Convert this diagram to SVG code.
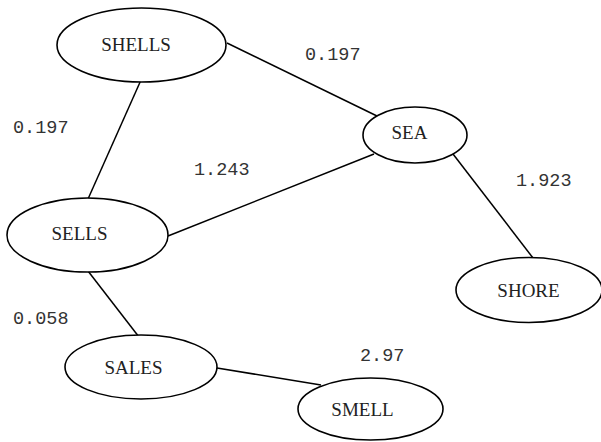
<svg xmlns="http://www.w3.org/2000/svg" width="601" height="442" viewBox="0 0 601 442">
  <style>
    .node ellipse { fill: #ffffff; stroke: #000000; stroke-width: 1.6; }
    .node text { font-family: "Liberation Serif", "Times New Roman", serif; font-size: 19px; fill: #222222; text-anchor: middle; }
    .edge { stroke: #000000; stroke-width: 1.5; fill: none; }
    .weight { font-family: "Liberation Mono", "Courier New", monospace; font-size: 18.5px; fill: #333333; }
  </style>
  <rect width="601" height="442" fill="#ffffff"/>

  <!-- weighted edges -->
  <g id="edges">
    <line class="edge" x1="227" y1="43" x2="377" y2="116"/>
    <line class="edge" x1="141" y1="80" x2="88" y2="199"/>
    <line class="edge" x1="168" y1="236" x2="374" y2="154"/>
    <line class="edge" x1="453" y1="154" x2="533" y2="258"/>
    <line class="edge" x1="88" y1="271" x2="139" y2="337"/>
    <line class="edge" x1="217" y1="368" x2="321" y2="385"/>
  </g>

  <!-- edge weights -->
  <g id="weights">
    <text class="weight" x="305" y="60">0.197</text>
    <text class="weight" x="13" y="133">0.197</text>
    <text class="weight" x="194" y="175">1.243</text>
    <text class="weight" x="516" y="186">1.923</text>
    <text class="weight" x="13" y="324">0.058</text>
    <text class="weight" x="360" y="361">2.97</text>
  </g>

  <g id="node-shells" class="node">
    <ellipse cx="141.5" cy="45" rx="84.5" ry="37"/>
    <text x="136" y="51">SHELLS</text>
  </g>
  <g id="node-sea" class="node">
    <ellipse cx="415" cy="135" rx="52" ry="28"/>
    <text x="409.5" y="139">SEA</text>
  </g>
  <g id="node-sells" class="node">
    <ellipse cx="87.5" cy="235" rx="80.5" ry="37"/>
    <text x="79.5" y="240">SELLS</text>
  </g>
  <g id="node-shore" class="node">
    <ellipse cx="529" cy="290" rx="73" ry="32.5"/>
    <text x="528.5" y="297">SHORE</text>
  </g>
  <g id="node-sales" class="node">
    <ellipse cx="141" cy="367" rx="76" ry="32"/>
    <text x="133.5" y="374">SALES</text>
  </g>
  <g id="node-smell" class="node">
    <ellipse cx="370.5" cy="409" rx="72.5" ry="31"/>
    <text x="362.5" y="416">SMELL</text>
  </g>
</svg>
